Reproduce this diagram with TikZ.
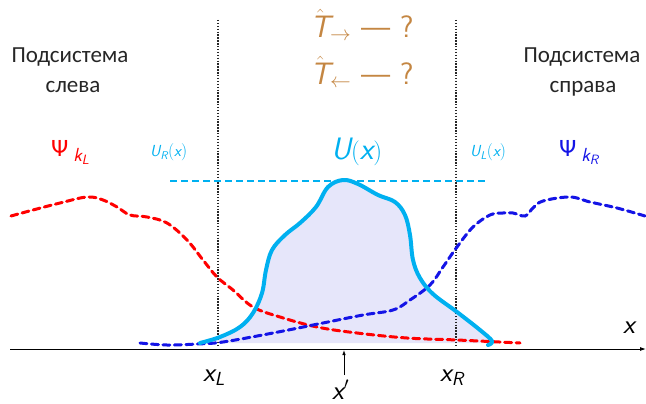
\documentclass[tikz,border=0pt]{standalone}
\usepackage{amsmath}
\usepackage[no-math]{fontspec}
\newfontfamily\cyrfont{Carlito}
\newfontfamily\grkfont{DejaVu Sans}
\usetikzlibrary{arrows.meta}
\newcommand\mysi[1]{\text{\sffamily\itshape #1}}
\definecolor{ucyan}{RGB}{0,176,240}
\definecolor{ufill}{RGB}{230,230,250}
\definecolor{tbrown}{RGB}{196,134,66}
\definecolor{psired}{RGB}{255,0,0}
\definecolor{psiblue}{RGB}{20,20,230}
\tikzset{
  cyrlbl/.style={font=\cyrfont\fontsize{23}{27}\selectfont, text=black!85, inner sep=0pt, anchor=base},
  tlbl/.style={font=\sffamily\fontsize{31}{47}\selectfont, text=tbrown, inner sep=0pt, align=center},
  mlbl/.style={font=\sffamily\fontsize{27}{30}\selectfont, inner sep=0pt, anchor=base west},
  smlbl/.style={font=\sffamily\fontsize{16}{18}\selectfont, text=ucyan, inner sep=0pt, anchor=base west},
  psilbl/.style={font=\sffamily\fontsize{27}{30}\selectfont, inner sep=0pt, anchor=base west},
  wave/.style={line width=3pt, dash pattern=on 7pt off 4.5pt, line cap=round},
  border/.style={black!85, line width=1.3pt, dash pattern=on 1.4pt off 1.5pt},
}
\begin{document}
\begin{tikzpicture}[x=1pt,y=-1pt]
\useasboundingbox (0,0) rectangle (646,404);
% barrier fill
\fill[ufill] plot[smooth, tension=0.6] coordinates {(200,343) (220,337) (240,327) (253,313) (262,293) (266,270) (272,250) (285,235) (300,223) (316,207) (328,187) (343,180) (358,184) (378,195) (395,202) (405,215) (410,235) (413,260) (420,278) (433,294) (457,312) (480,330) (493,343)} -- cycle;
% dotted borders
\coordinate (dl0) at (218,20); \coordinate (dl1) at (218,347);
\coordinate (dr0) at (456,20); \coordinate (dr1) at (456,347);
\draw[border] (dl0) -- (dl1);
\draw[border] (dr0) -- (dr1);
% cyan dashed level
\coordinate (lv0) at (170,181); \coordinate (lv1) at (488,181);
\draw[ucyan, line width=2.6pt, dash pattern=on 7pt off 4pt] (lv0) -- (lv1);
% red wave
\draw[wave, psired] plot[smooth, tension=0.6] coordinates {(11,216) (33,210) (60,203) (87,197) (103,200) (117,207) (130,215) (147,217) (167,223) (187,240) (203,260) (217,277) (233,290) (253,307) (280,317) (317,327) (357,333) (407,338) (457,340) (520,343)};
% blue wave
\draw[wave, psiblue] plot[smooth, tension=0.6] coordinates {(140,343) (167,345) (197,344) (223,342) (273,333) (323,323) (363,315) (393,310) (410,300) (430,285) (443,267) (457,247) (473,227) (490,215) (503,213) (513,213) (525,216) (533,208) (543,201) (570,197) (590,202) (617,208) (645,216)};
% barrier outline
\draw[ucyan, line width=4pt, line cap=round, line join=round] plot[smooth, tension=0.6] coordinates {(200,343) (220,337) (240,327) (253,313) (262,293) (266,270) (272,250) (285,235) (300,223) (316,207) (328,187) (343,180) (358,184) (378,195) (395,202) (405,215) (410,235) (413,260) (420,278) (433,294) (457,312) (480,330) (492,341) (488,345)};
% axis
\coordinate (ax0) at (10,349); \coordinate (ax1) at (646,349);
\draw[black, line width=0.9pt, -{Latex[length=6pt,width=4pt]}] (ax0) -- (ax1);
% labels
\node[cyrlbl] (ls1) at (70,63) {Подсистема};
\node[cyrlbl] (ls2) at (73,93) {слева};
\node[cyrlbl] (rs1) at (582,63) {Подсистема};
\node[cyrlbl] (rs2) at (583,93) {справа};
\node[tlbl, anchor=north] (tt) at (362,9) {$\hat{\mbox{\sffamily\itshape T}}_{\rightarrow}$ --- ?\\$\hat{\mbox{\sffamily\itshape T}}_{\leftarrow}$ --- ?};
\node[psilbl, text=psired] (pl) at (51,157) {{\grkfont\fontsize{22}{26}\selectfont Ψ}$_{\;\mysi{k}_{\mysi{L}}}$};
\node[psilbl, text=psiblue] (pr) at (559,157) {{\grkfont\fontsize{22}{26}\selectfont Ψ}$_{\;\mysi{k}_{\mysi{R}}}$};
\node[smlbl] (ur) at (150,157) {$\mysi{U}_{\mysi{R}}(\mysi{x})$};
\node[smlbl] (ul) at (470,157) {$\mysi{U}_{\mysi{L}}(\mysi{x})$};
\node[mlbl, text=ucyan, font=\sffamily\fontsize{31}{34}\selectfont] (ux) at (331,159) {$\mysi{U}(\mysi{x})$};
\node[mlbl] (xl) at (203,381) {$\mysi{x}_{\mysi{L}}$};
\node[mlbl] (xr) at (440,381) {$\mysi{x}_{\mysi{R}}$};
\node[mlbl] (xp) at (332,399) {$\mysi{x}'$};
\node[mlbl] (xx) at (623,333) {$\mysi{x}$};
\coordinate (xpa) at (344,375); \coordinate (xpb) at (344,350);
\draw[black, line width=0.8pt, -{Latex[length=5pt,width=3.5pt]}] (xpa) -- (xpb);
\end{tikzpicture}
\end{document}
